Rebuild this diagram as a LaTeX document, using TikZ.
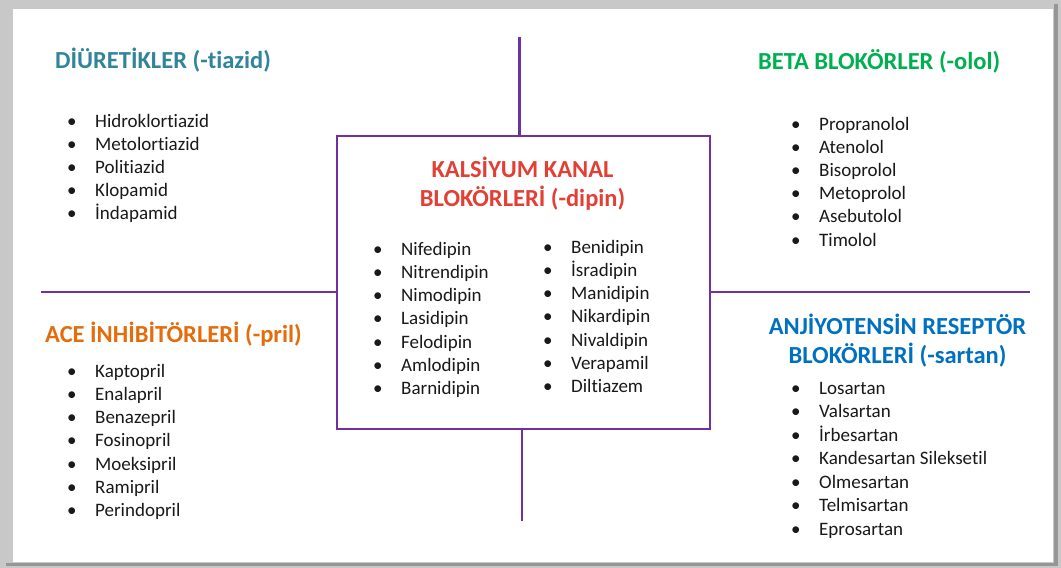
\documentclass[tikz,border=0pt]{standalone}
\usepackage{fontspec}
\setmainfont{Carlito}[Ligatures={NoCommon}]
\definecolor{frame}{RGB}{200,200,200}
\definecolor{framedark}{RGB}{150,150,150}
\definecolor{conn}{RGB}{112,48,160}
\definecolor{cteal}{RGB}{49,133,155}
\definecolor{cgreen}{RGB}{0,176,80}
\definecolor{corange}{RGB}{228,108,10}
\definecolor{cblue}{RGB}{0,112,192}
\definecolor{cred}{RGB}{226,64,52}
\definecolor{ctext}{RGB}{25,25,25}
\begin{document}
\begin{tikzpicture}[x=1pt,y=-1pt,
  item/.style={anchor=base west,inner sep=0pt,text=ctext,font=\fontsize{19}{22}\selectfont},
  head/.style={inner sep=0pt,font=\bfseries\fontsize{24.5}{29}\selectfont},
  connline/.style={draw=conn,line width=2.6pt},
  centerbox/.style={draw=conn,line width=2.6pt,minimum width=373pt,minimum height=293pt,inner sep=0pt}]
\useasboundingbox (0,0) rectangle (1061,568);
\fill[frame] (0,0) rectangle (1061,568);
\fill[framedark] (1054,4) rectangle (1058,565);
\fill[framedark] (6,563) rectangle (1058,566);
\fill[white] (13,9) rectangle (1053,562);
% central box
\node[centerbox] (box) at (523.5,282.5) {};
\coordinate (ctop) at (519.5,37);
\coordinate (cbot) at (522,521);
\coordinate (cleft) at (41,292);
\coordinate (cright) at (1030,292);
\draw[connline] (ctop) -- (ctop |- box.north);
\draw[connline] (cbot) -- (cbot |- box.south);
\draw[connline] (cleft) -- (cleft -| box.west);
\draw[connline] (cright) -- (cright -| box.east);
% headers
\node[head,text=cteal,anchor=base west] (hdiu) at (55,68) {DİÜRETİKLER (-tiazid)};
\node[head,text=cgreen,anchor=base west] (hbeta) at (758,69) {BETA BLOKÖRLER (-olol)};
\node[head,text=corange,anchor=base west] (hace) at (45,342) {ACE İNHİBİTÖRLERİ (-pril)};
\node[head,text=cblue,anchor=base] (harb1) at (897.5,334) {ANJİYOTENSİN RESEPTÖR};
\node[head,text=cblue,anchor=base] (harb2) at (897.5,363) {BLOKÖRLERİ (-sartan)};
\node[head,text=cred,anchor=base] (hkkb1) at (522.5,177) {KALSİYUM KANAL};
\node[head,text=cred,anchor=base] (hkkb2) at (522.5,206) {BLOKÖRLERİ (-dipin)};
% lists
\newcommand{\bul}{\makebox[28pt][l]{•}}
\foreach \t [count=\i from 0] in {Hidroklortiazid,Metolortiazid,Politiazid,Klopamid,İndapamid}
  \node[item] (diu\i) at (67,{127+23.2*\i}) {\bul\t};
\foreach \t [count=\i from 0] in {Propranolol,Atenolol,Bisoprolol,Metoprolol,Asebutolol,Timolol}
  \node[item] (beta\i) at (791,{130+23.2*\i}) {\bul\t};
\foreach \t [count=\i from 0] in {Kaptopril,Enalapril,Benazepril,Fosinopril,Moeksipril,Ramipril,Perindopril}
  \node[item] (ace\i) at (67,{377+23.3*\i}) {\bul\t};
\foreach \t [count=\i from 0] in {Losartan,Valsartan,İrbesartan,Kandesartan Sileksetil,Olmesartan,Telmisartan,Eprosartan}
  \node[item] (arb\i) at (791,{394+23.5*\i}) {\bul\t};
\foreach \t [count=\i from 0] in {Nifedipin,Nitrendipin,Nimodipin,Lasidipin,Felodipin,Amlodipin,Barnidipin}
  \node[item] (kl\i) at (373,{255+23.3*\i}) {\bul\t};
\foreach \t [count=\i from 0] in {Benidipin,İsradipin,Manidipin,Nikardipin,Nivaldipin,Verapamil,Diltiazem}
  \node[item] (kr\i) at (543,{253+23.3*\i}) {\bul\t};
\end{tikzpicture}
\end{document}
